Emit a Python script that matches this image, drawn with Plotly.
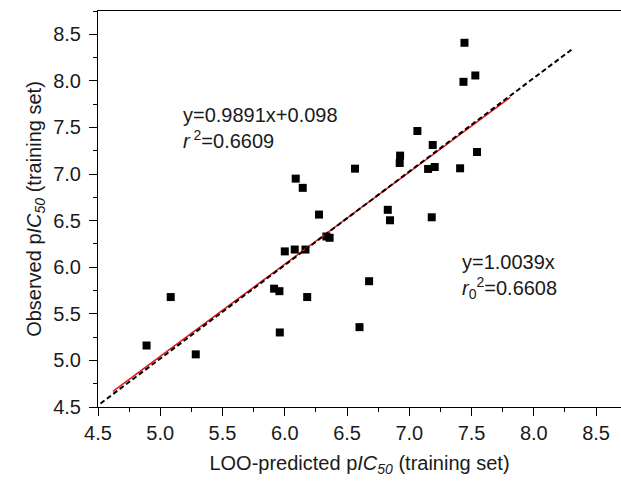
import plotly.graph_objects as go

# Data
loo_predicted = [4.89, 5.084, 5.285, 5.914, 5.957, 5.96, 6.0, 6.08, 6.166, 6.18,
                 6.275, 6.334, 6.36, 6.60, 6.677, 6.827, 6.845, 7.18, 7.443, 7.435,
                 7.53, 7.065, 7.188, 7.544, 6.926, 6.923, 6.564, 7.151, 7.204, 7.408,
                 6.144, 6.088]
observed = [5.16, 5.68, 5.065, 5.77, 5.743, 5.30, 6.17, 6.19, 6.19, 5.68,
            6.565, 6.33, 6.316, 5.357, 5.85, 6.616, 6.504, 6.536, 8.409, 7.99,
            8.058, 7.462, 7.312, 7.237, 7.198, 7.119, 7.058, 7.055, 7.076, 7.062,
            6.852, 6.951]

fit_slope, fit_intercept = 0.9891, 0.098
fit_x = [4.62, 7.81]
origin_slope = 1.0039
origin_x = [4.52, 8.31]

x_ticks = [4.5, 5.0, 5.5, 6.0, 6.5, 7.0, 7.5, 8.0, 8.5]
y_ticks = [4.5, 5.0, 5.5, 6.0, 6.5, 7.0, 7.5, 8.0, 8.5]

FONT = "Arial, 'Liberation Sans', sans-serif"
TXT = "#1a1a1a"

fig = go.Figure()
fig.add_trace(go.Scatter(
    x=loo_predicted, y=observed, mode="markers",
    marker=dict(symbol="square", size=8, color="black", line=dict(width=0)),
    showlegend=False))
fig.add_trace(go.Scatter(
    x=fit_x, y=[fit_slope * v + fit_intercept for v in fit_x], mode="lines",
    line=dict(color="#e8191c", width=1.5), showlegend=False))
fig.add_trace(go.Scatter(
    x=origin_x, y=[origin_slope * v for v in origin_x], mode="lines",
    line=dict(color="black", width=2, dash="5px,3px"), showlegend=False))

fig.add_annotation(
    x=5.17, y=7.49, xref="x", yref="y", xanchor="left", yanchor="middle",
    text="y=0.9891x+0.098<br><i>r</i><sup> 2</sup>=0.6609", align="left",
    showarrow=False, font=dict(family=FONT, size=20, color=TXT))
fig.add_annotation(
    x=7.41, y=5.9, xref="x", yref="y", xanchor="left", yanchor="middle",
    text="y=1.0039x<br><i>r</i><sub>0</sub><sup>2</sup>=0.6608", align="left",
    showarrow=False, font=dict(family=FONT, size=20, color=TXT))

axis_common = dict(
    showgrid=False, zeroline=False, showline=True, linecolor="black", linewidth=1,
    ticks="outside", ticklen=8, tickwidth=1, tickcolor="black",
    tickfont=dict(family=FONT, size=20, color=TXT),
    minor=dict(ticks="outside", ticklen=4, tickwidth=1, tickcolor="black", dtick=0.25),
)

fig.update_layout(
    width=621, height=482,
    margin=dict(l=98, r=0, t=11, b=75),
    plot_bgcolor="white", paper_bgcolor="white",
    font=dict(family=FONT, color=TXT),
    xaxis=dict(range=[4.5, 8.7], tickvals=x_ticks, ticktext=[f"{v:.1f}" for v in x_ticks],
               mirror=True,
               title=dict(text="LOO-predicted p<i>IC</i><sub><i>50</i></sub> (training set)",
                          font=dict(family=FONT, size=20, color=TXT), standoff=12),
               **axis_common),
    yaxis=dict(range=[4.5, 8.75], tickvals=y_ticks, ticktext=[f"{v:.1f}" for v in y_ticks],
               ticklabelstandoff=4,
               title=dict(text="Observed p<i>IC</i><sub><i>50</i></sub> (training set)",
                          font=dict(family=FONT, size=20, color=TXT), standoff=6),
               **axis_common),
)

fig.write_html("out.html")
